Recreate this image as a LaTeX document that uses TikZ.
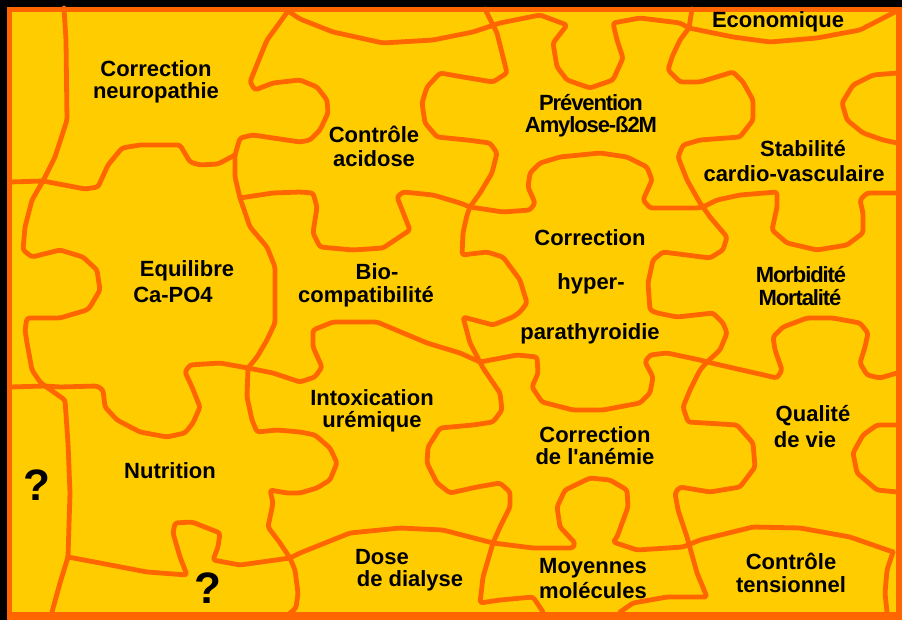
\documentclass[tikz,border=0pt]{standalone}
\usepackage{fontspec}
\setmainfont{Liberation Sans}
\newfontfamily\lsans{Liberation Sans}
\definecolor{puzY}{HTML}{FFCC00}
\definecolor{puzO}{HTML}{FF6600}
\tikzset{
  edge/.style={draw=puzO, line width=3.6pt, line join=round, line cap=round, rounded corners=2pt},
  lbl/.style={anchor=base, inner sep=0pt, font=\lsans\fontsize{16.5}{16.5}\selectfont\bfseries, text=black},
  lblc/.style={lbl, font=\lsans\fontsize{16.5}{16.5}\selectfont\bfseries\addfontfeatures{LetterSpace=-5}},
  qm/.style={anchor=base, inner sep=0pt, font=\lsans\fontsize{33}{33}\selectfont\bfseries, text=black}
}
\begin{document}
\begin{tikzpicture}[x=0.75pt, y=-0.75pt]
\useasboundingbox (0,0) rectangle (902,620);
\fill[black] (0,0) rectangle (902,620);
\fill[puzO] (7,7) rectangle (902,620);
\fill[puzY] (12,12) rectangle (896,612);

% puzzle edges
\draw[edge] (64,8) -- (66,40) -- (67,120) -- (55,157) -- (43,181);
\draw[edge] (10,182) -- (43,181) -- (85,189) -- (98,187) -- (108,165) -- (122,148) -- (140,145) -- (180,145) -- (190,162) -- (200,165) -- (218,164) -- (235,155);
\draw[edge] (235,155) -- (240,138) -- (253,135) -- (273,138) -- (300,142) -- (310,140) -- (320,130) -- (328,113) -- (327,100) -- (317,87) -- (300,80) -- (273,83) -- (255,90) -- (250,82) -- (258,62) -- (267,40) -- (278,25) -- (288,11);
\draw[edge] (235,155) -- (235,177) -- (240,198) -- (250,227) -- (267,247) -- (275,267) -- (275,323) -- (267,340) -- (257,357) -- (248,368);
\draw[edge] (43,181) -- (32,200) -- (25,227) -- (23,250) -- (32,257) -- (60,250) -- (83,257) -- (97,270) -- (100,290) -- (90,307) -- (87,310) -- (60,318) -- (27,318) -- (25,330) -- (27,343) -- (32,370) -- (40,382) -- (45,386);
\draw[edge] (10,387) -- (45,386);
\draw[edge] (45,386) -- (60,387) -- (97,386) -- (103,390) -- (105,407) -- (117,420) -- (140,432) -- (167,437) -- (185,433) -- (193,423) -- (200,407) -- (192,387) -- (185,372) -- (190,365) -- (220,363) -- (248,368);
\draw[edge] (45,386) -- (65,400) -- (68,443) -- (70,493) -- (68,557) -- (60,583) -- (52,612);
\draw[edge] (68,557) -- (100,563) -- (147,572) -- (187,575) -- (180,557) -- (173,533) -- (175,523) -- (192,522) -- (220,533) -- (218,547) -- (213,560) -- (240,565) -- (290,558);
\draw[edge] (248,368) -- (247,397) -- (252,420) -- (257,432) -- (277,430) -- (300,432) -- (315,435) -- (330,448) -- (337,463) -- (330,480) -- (317,488) -- (300,493) -- (287,493) -- (270,490) -- (273,503) -- (268,527) -- (280,543) -- (290,558);
\draw[edge] (290,558) -- (295,570) -- (298,593) -- (296,608) -- (290,613);
\draw[edge] (248,368) -- (273,373) -- (300,382) -- (315,377) -- (322,367) -- (313,347) -- (313,330) -- (333,322) -- (377,322) -- (427,343) -- (460,353) -- (480,362);
\draw[edge] (290,558) -- (300,553) -- (350,533) -- (400,528) -- (443,530) -- (493,543) -- (533,548) -- (573,548) -- (575,543) -- (560,527) -- (557,507) -- (565,490) -- (590,478) -- (610,480) -- (627,490) -- (628,507) -- (617,537) -- (613,542) -- (637,550) -- (683,547) -- (700,540) -- (753,527) -- (800,528) -- (850,537) -- (893,552);
\draw[edge] (893,552) -- (887,570) -- (885,593) -- (887,612);
\draw[edge] (240,198) -- (273,193) -- (300,192) -- (313,193) -- (317,207) -- (313,233) -- (320,247) -- (353,250) -- (383,248) -- (410,230) -- (397,197) -- (403,192) -- (433,195) -- (460,203) -- (470,207);
\draw[edge] (288,11) -- (300,19) -- (333,32) -- (383,43) -- (433,40) -- (473,32) -- (500,23) -- (540,15) -- (567,25) -- (553,43) -- (557,67) -- (567,80) -- (590,88) -- (613,80) -- (623,58) -- (617,40) -- (613,23) -- (640,18) -- (680,23) -- (689,28);
\draw[edge] (485,9) -- (497,33) -- (503,57) -- (507,73) -- (493,82) -- (463,77) -- (440,73) -- (427,87) -- (422,103) -- (425,123) -- (437,137) -- (467,140) -- (490,143) -- (497,153) -- (492,173) -- (480,193) -- (470,207);
\draw[edge] (692,9) -- (689,28);
\draw[edge] (689,28) -- (733,37) -- (770,42) -- (817,38) -- (860,30) -- (897,11);
\draw[edge] (689,28) -- (680,40) -- (672,57) -- (668,70) -- (680,82) -- (700,82) -- (733,72) -- (743,82) -- (753,100) -- (753,120) -- (740,137) -- (700,140) -- (683,145) -- (678,157) -- (687,180) -- (700,203) -- (703,207);
\draw[edge] (703,207) -- (710,217) -- (727,237) -- (723,250) -- (710,258) -- (663,252) -- (653,260) -- (648,283) -- (650,310) -- (657,313) -- (677,317) -- (713,313) -- (723,323) -- (727,333) -- (720,350) -- (707,362);
\draw[edge] (707,362) -- (700,370) -- (690,390) -- (683,407) -- (688,422) -- (737,425) -- (753,443) -- (755,467) -- (740,487) -- (710,492) -- (680,487) -- (675,493) -- (678,510) -- (687,537) -- (697,573) -- (707,597) -- (667,597) -- (633,603) -- (620,612);
\draw[edge] (470,207) -- (503,212) -- (530,210) -- (535,203) -- (528,187) -- (530,173) -- (540,163) -- (560,157) -- (600,153) -- (627,157) -- (647,167) -- (652,180) -- (643,200) -- (650,208) -- (697,208) -- (703,207);
\draw[edge] (703,207) -- (717,200) -- (740,195) -- (777,192) -- (777,207) -- (772,230) -- (787,243) -- (817,250) -- (847,245) -- (863,233) -- (863,213) -- (860,200) -- (867,193) -- (897,193);
\draw[edge] (897,73) -- (873,75) -- (853,85) -- (842,103) -- (847,120) -- (863,133) -- (883,140) -- (897,143);
\draw[edge] (470,207) -- (467,215) -- (463,233) -- (462,255) -- (487,252) -- (503,257) -- (520,280) -- (527,303) -- (520,312) -- (513,317) -- (493,325) -- (463,317) -- (470,343) -- (480,362);
\draw[edge] (480,362) -- (517,355) -- (537,357) -- (538,373) -- (532,387) -- (542,402) -- (573,410) -- (603,410) -- (640,403) -- (650,393) -- (653,377) -- (645,362) -- (650,355) -- (667,353) -- (700,360) -- (707,362) -- (733,368) -- (777,378) -- (782,370) -- (775,350) -- (773,337) -- (783,327) -- (807,318) -- (833,318) -- (860,323) -- (868,333) -- (865,347) -- (860,363) -- (867,375) -- (880,378) -- (897,373);
\draw[edge] (480,362) -- (483,368) -- (500,393) -- (502,410) -- (493,422) -- (473,425) -- (440,428) -- (428,447) -- (427,463) -- (437,483) -- (450,493) -- (477,487) -- (500,483) -- (510,492) -- (510,507) -- (500,527) -- (493,543) -- (483,577) -- (480,603) -- (500,600) -- (533,597) -- (543,612);
\draw[edge] (897,425) -- (877,425) -- (863,435) -- (853,453) -- (857,473) -- (877,490) -- (897,492);

% labels
\node[lbl] (neuA) at (156,77) {Correction};
\node[lbl] (neuB) at (156,99) {neuropathie};
\node[lbl] (acdA) at (374,143) {Contrôle};
\node[lbl] (acdB) at (374,167) {acidose};
\node[lblc] (preA) at (591,111) {Prévention};
\node[lblc] (preB) at (591,133) {Amylose-ß2M};
\node[lbl] (eco) at (778,28) {Economique};
\node[lbl] (staA) at (803,157) {Stabilité};
\node[lbl] (staB) at (794,182) {cardio-vasculaire};
\node[lbl] (equA) at (187,276) {Equilibre};
\node[lbl] (equB) at (173,302) {Ca-PO4};
\node[lbl] (bioA) at (377,279) {Bio-};
\node[lbl] (bioB) at (366,302) {compatibilité};
\node[lbl] (hypA) at (590,245) {Correction};
\node[lbl] (hypB) at (591,289) {hyper-};
\node[lbl] (hypC) at (590,339) {parathyroidie};
\node[lblc] (morA) at (801,282) {Morbidité};
\node[lblc] (morB) at (800,305) {Mortalité};
\node[lbl] (intA) at (372,405) {Intoxication};
\node[lbl] (intB) at (372,427) {urémique};
\node[lbl] (nut) at (170,478) {Nutrition};
\node[qm] (qA) at (37,500) {?};
\node[qm] (qB) at (208,603) {?};
\node[lbl] (aneA) at (595,442) {Correction};
\node[lbl] (aneB) at (595,464) {de l'anémie};
\node[lbl] (quaA) at (813,421) {Qualité};
\node[lbl] (quaB) at (805,447) {de vie};
\node[lbl] (dosA) at (382,564) {Dose};
\node[lbl] (dosB) at (410,586) {de dialyse};
\node[lbl] (moyA) at (593,573) {Moyennes};
\node[lbl] (moyB) at (593,598) {molécules};
\node[lbl] (tenA) at (791,569) {Contrôle};
\node[lbl] (tenB) at (791,592) {tensionnel};
\end{tikzpicture}
\end{document}
